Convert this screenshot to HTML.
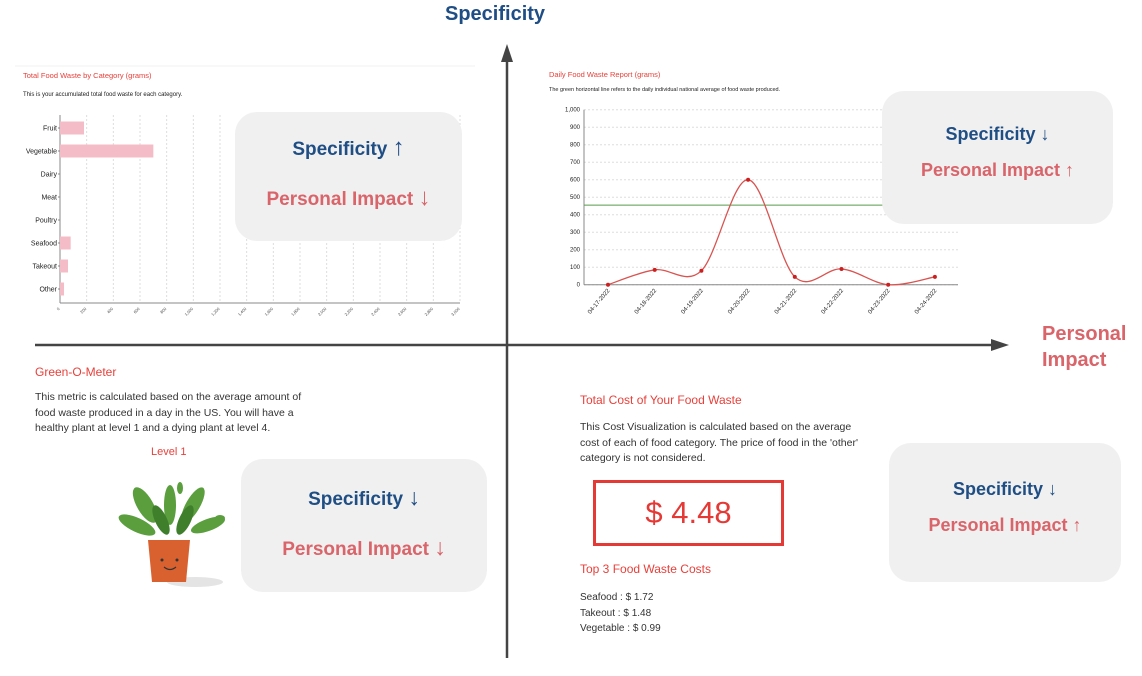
<!DOCTYPE html>
<html><head><meta charset="utf-8"><style>
body{margin:0;width:1142px;height:676px;background:#fff;position:relative;overflow:hidden;font-family:"Liberation Sans",sans-serif;}
.abs{position:absolute;}
.box{position:absolute;background:#f0f0f0;border-radius:22px;}
.spec{position:absolute;color:#1f4e85;font-weight:bold;text-align:center;left:0;right:0;}
.pi{position:absolute;color:#d9646a;font-weight:bold;text-align:center;left:0;right:0;}
.red{color:#e8403a;}
.p{color:#333;font-size:10.5px;line-height:15.5px;}
</style></head><body>
<svg class="abs" style="left:0;top:0" width="1142" height="676">
<line x1="507" y1="58" x2="507" y2="658" stroke="#444" stroke-width="2.5"/>
<polygon points="507,44 501,62 513,62" fill="#444"/>
<line x1="35" y1="345" x2="994" y2="345" stroke="#444" stroke-width="2.5"/>
<polygon points="1009,345 991,339 991,351" fill="#444"/>
<line x1="15" y1="66" x2="475" y2="66" stroke="#f0f0f0" stroke-width="1"/>
</svg>
<div class="abs" style="left:445px;top:3px;font-size:20px;font-weight:bold;color:#1f4e85">Specificity</div>
<div class="abs" style="left:1042px;top:321px;font-size:20px;font-weight:bold;color:#d9646a;line-height:26px">Personal<br>Impact</div>

<div class="abs red" style="left:23px;top:71px;font-size:7.5px">Total Food Waste by Category (grams)</div>
<div class="abs" style="left:23px;top:92px;font-size:6px;color:#222">This is your accumulated total food waste for each category.</div>
<svg id="bar" class="abs" style="left:0;top:0" width="500" height="340"></svg>

<div class="abs red" style="left:549px;top:70px;font-size:7.5px">Daily Food Waste Report (grams)</div>
<div class="abs" style="left:549px;top:87px;font-size:5.5px;color:#222">The green horizontal line refers to the daily individual national average of food waste produced.</div>
<svg id="line" class="abs" style="left:0;top:0" width="1000" height="340"></svg>

<div class="box" style="left:235px;top:112px;width:227px;height:129px">
<div class="spec" style="top:22px;font-size:19px">Specificity <span style="font-weight:normal;font-size:24px">↑</span></div>
<div class="pi" style="top:72px;font-size:19px">Personal Impact <span style="font-weight:normal;font-size:24px">↓</span></div></div>
<div class="box" style="left:882px;top:91px;width:231px;height:133px">
<div class="spec" style="top:33px;font-size:18px">Specificity <span style="font-weight:normal">↓</span></div>
<div class="pi" style="top:69px;font-size:18px">Personal Impact <span style="font-weight:normal">↑</span></div></div>
<div class="box" style="left:241px;top:459px;width:246px;height:133px">
<div class="spec" style="top:25px;font-size:19px">Specificity <span style="font-weight:normal;font-size:23px">↓</span></div>
<div class="pi" style="top:75px;font-size:19px">Personal Impact <span style="font-weight:normal;font-size:23px">↓</span></div></div>
<div class="box" style="left:889px;top:443px;width:232px;height:139px">
<div class="spec" style="top:36px;font-size:18px">Specificity <span style="font-weight:normal">↓</span></div>
<div class="pi" style="top:72px;font-size:18px">Personal Impact <span style="font-weight:normal">↑</span></div></div>

<div class="abs red" style="left:35px;top:365px;font-size:12px">Green-O-Meter</div>
<div class="abs p" style="left:35px;top:390px;width:270px">This metric is calculated based on the average amount of food waste produced in a day in the US. You will have a healthy plant at level 1 and a dying plant at level 4.</div>
<div class="abs red" style="left:151px;top:446px;font-size:11px">Level 1</div>
<svg class="abs" style="left:115px;top:480px" width="115" height="110">
<ellipse cx="80" cy="102" rx="28" ry="5" fill="#e4e4e4"/>
<g fill="#5a9e3e">
<ellipse cx="22" cy="45" rx="20" ry="7" transform="rotate(25 22 45)"/>
<ellipse cx="30" cy="25" rx="8" ry="20" transform="rotate(-30 30 25)"/>
<ellipse cx="55" cy="25" rx="6" ry="20"/>
<ellipse cx="78" cy="25" rx="7" ry="20" transform="rotate(30 78 25)"/>
<ellipse cx="93" cy="45" rx="18" ry="6" transform="rotate(-20 93 45)"/>
<ellipse cx="46" cy="40" rx="6" ry="16" transform="rotate(-25 46 40)" fill="#3f7f2c"/>
<ellipse cx="70" cy="40" rx="6" ry="16" transform="rotate(25 70 40)" fill="#3f7f2c"/>
<ellipse cx="65" cy="8" rx="3" ry="6" />
<ellipse cx="105" cy="38" rx="5" ry="3"/>
</g>
<path d="M33 60 L75 60 L71 102 L37 102 Z" fill="#d9612f"/>
<circle cx="47" cy="80" r="1.5" fill="#333"/><circle cx="62" cy="80" r="1.5" fill="#333"/>
<path d="M49 87 Q55 92 61 87" stroke="#333" stroke-width="1.2" fill="none"/>
</svg>

<div class="abs red" style="left:580px;top:393px;font-size:12px">Total Cost of Your Food Waste</div>
<div class="abs p" style="left:580px;top:420px;width:280px">This Cost Visualization is calculated based on the average cost of each of food category. The price of food in the 'other' category is not considered.</div>
<div class="abs" style="left:593px;top:480px;width:185px;height:60px;border:3px solid #e53935;color:#e53935;font-size:31px;text-align:center;line-height:60px">$ 4.48</div>
<div class="abs red" style="left:580px;top:562px;font-size:12px">Top 3 Food Waste Costs</div>
<div class="abs" style="left:580px;top:590px;font-size:10px;line-height:15.5px;color:#333">Seafood : $ 1.72<br>Takeout : $ 1.48<br>Vegetable : $ 0.99</div>

<script>
const barCategories=["Fruit","Vegetable","Dairy","Meat","Poultry","Seafood","Takeout","Other"];
const barValues=[180,700,0,0,0,80,60,30];
const barTicks=[0,200,400,600,800,1000,1200,1400,1600,1800,2000,2200,2400,2600,2800,3000];
const lineDates=["04-17-2022","04-18-2022","04-19-2022","04-20-2022","04-21-2022","04-22-2022","04-23-2022","04-24-2022"];
const lineValues=[0,85,80,600,45,90,0,45];
const yTicks=[0,100,200,300,400,500,600,700,800,900,1000];
const nationalAverage=455;
const NS="http://www.w3.org/2000/svg";
function mk(p,t,a){const e=document.createElementNS(NS,t);for(const k in a)e.setAttribute(k,a[k]);p.appendChild(e);return e;}
function fmt(v){return v.toLocaleString("en-US");}
// bar chart
const bs=document.getElementById("bar");
const bx=v=>60+v/3000*400, by0=116, band=23;
barTicks.forEach(t=>{
 const g=mk(bs,"line",{x1:bx(t),x2:bx(t),y1:115,y2:303,stroke:"#ddd","stroke-dasharray":"2,2"});
 
 const tx=mk(bs,"text",{x:bx(t),y:309,"font-size":4,fill:"#444","text-anchor":"end",transform:`rotate(-45 ${bx(t)} 309)`});
 tx.textContent=fmt(t);
});
mk(bs,"line",{x1:60,x2:460,y1:303,y2:303,stroke:"#888"});
mk(bs,"line",{x1:60,x2:60,y1:115,y2:303,stroke:"#888"});
barCategories.forEach((c,i)=>{
 const cy=by0+band*i+12;
 const r=mk(bs,"rect",{x:60,y:cy-6.5,width:bx(barValues[i])-60,height:13,fill:"#f4bcc6"});
 
 const l=mk(bs,"text",{x:57,y:cy+2.5,"font-size":7,fill:"#222","text-anchor":"end"});
 l.textContent=c;
 mk(bs,"line",{x1:58,x2:60,y1:cy,y2:cy,stroke:"#888"});
});
// line chart
const ls=document.getElementById("line");
const lx=i=>608+i*46.7, ly=v=>284.7-v/1000*175;
yTicks.forEach(t=>{
 const g=mk(ls,"line",{x1:584,x2:958,y1:ly(t),y2:ly(t),stroke:"#ddd","stroke-dasharray":"2,2"});
 
 const tx=mk(ls,"text",{x:580,y:ly(t)+2,"font-size":6,fill:"#222","text-anchor":"end"});
 tx.textContent=fmt(t);
});
mk(ls,"line",{x1:584,x2:584,y1:ly(1000),y2:ly(0),stroke:"#888"});
mk(ls,"line",{x1:584,x2:958,y1:ly(0),y2:ly(0),stroke:"#888"});
const avg=mk(ls,"line",{x1:584,x2:958,y1:ly(nationalAverage),y2:ly(nationalAverage),stroke:"#5a9a4a","stroke-width":1});

const pts=lineValues.map((v,i)=>[lx(i),ly(v)]);
let d=`M${pts[0][0]},${pts[0][1]}`;
for(let i=0;i<pts.length-1;i++){
 const p0=pts[Math.max(0,i-1)],p1=pts[i],p2=pts[i+1],p3=pts[Math.min(pts.length-1,i+2)];
 const c1=[p1[0]+(p2[0]-p0[0])/6,p1[1]+(p2[1]-p0[1])/6],c2=[p2[0]-(p3[0]-p1[0])/6,p2[1]-(p3[1]-p1[1])/6];
 d+=` C${c1[0]},${c1[1]} ${c2[0]},${c2[1]} ${p2[0]},${p2[1]}`;
}
const path=mk(ls,"path",{d:d,fill:"none",stroke:"#d9534f","stroke-width":1.3});

pts.forEach((p,i)=>{
 const c=mk(ls,"circle",{cx:p[0],cy:p[1],r:2,fill:"#cc1f1f"});
 
 const tx=mk(ls,"text",{x:p[0]+2,y:ly(0)+6,"font-size":6,fill:"#222","text-anchor":"end",transform:`rotate(-50 ${p[0]+2} ${ly(0)+6})`});
 tx.textContent=lineDates[i];
});
</script>
</body></html>
